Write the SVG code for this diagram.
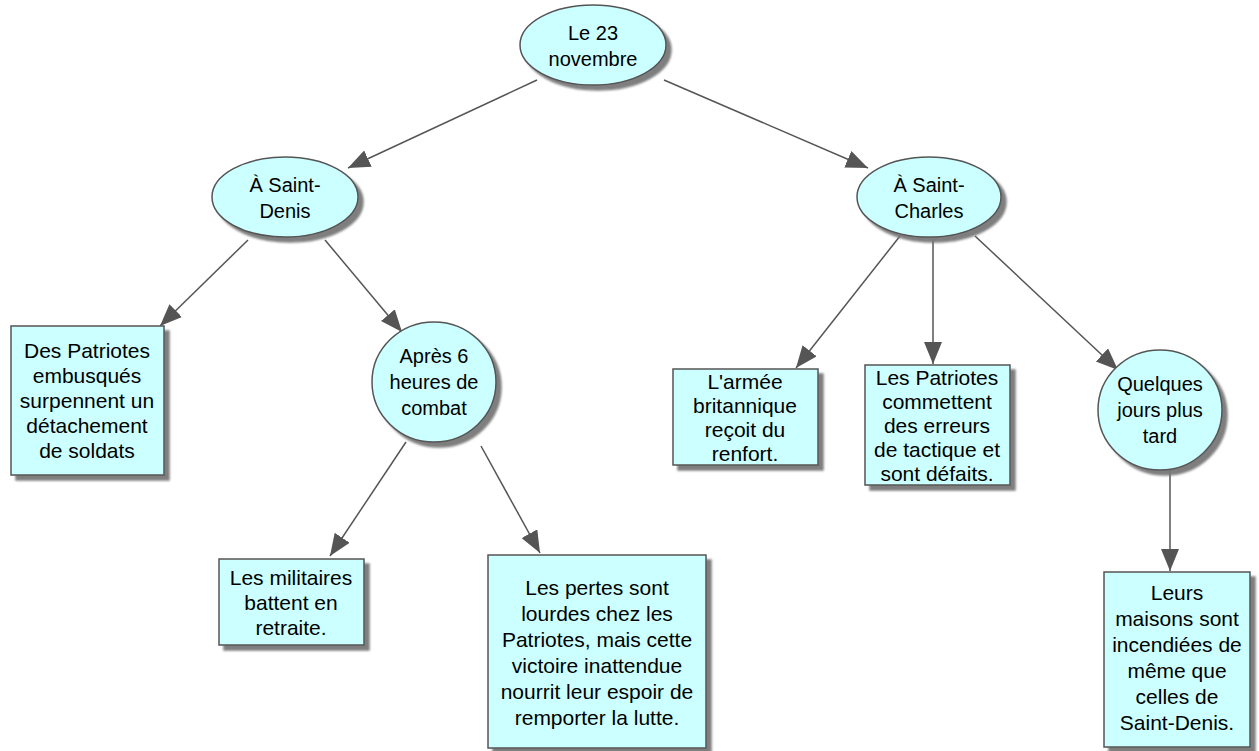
<svg xmlns="http://www.w3.org/2000/svg" width="1259" height="751" viewBox="0 0 1259 751">
<style>
.n{fill:#ccffff;stroke:#555;stroke-width:1.5;filter:url(#sh)}
.t{font-family:"Liberation Sans",Arial,sans-serif;font-size:21px;fill:#000;text-anchor:middle;dominant-baseline:central}
.e{font-size:20px}
.c{stroke:#555;stroke-width:1.5;fill:none;marker-end:url(#ah)}
</style>
<defs>
<filter id="sh" x="-20%" y="-20%" width="150%" height="150%">
<feDropShadow dx="5" dy="5" stdDeviation="1.2" flood-color="#777" flood-opacity="0.95"/>
</filter>
<marker id="ah" markerUnits="userSpaceOnUse" markerWidth="24" markerHeight="20" refX="22" refY="9" orient="auto">
<path d="M0,0 L22,9 L0,18 Z" fill="#555"/>
</marker>
</defs>
<g id="connectors">
<line class="c" x1="537" y1="80" x2="348" y2="168"/>
<line class="c" x1="664" y1="80" x2="868" y2="168"/>
<line class="c" x1="248" y1="240" x2="160" y2="326"/>
<line class="c" x1="325" y1="240" x2="402" y2="332"/>
<line class="c" x1="406" y1="442" x2="330" y2="556"/>
<line class="c" x1="481" y1="446" x2="540" y2="553"/>
<line class="c" x1="900" y1="236" x2="796" y2="368"/>
<line class="c" x1="933" y1="239" x2="933" y2="364"/>
<line class="c" x1="975" y1="236" x2="1118" y2="370"/>
<line class="c" x1="1170" y1="470" x2="1170" y2="571"/>
</g>
<g id="n1"><ellipse class="n" cx="593" cy="45" rx="73" ry="40"/>
<text class="t e" x="593" y="33">Le 23</text><text class="t e" x="593" y="59">novembre</text></g>
<g id="n2"><ellipse class="n" cx="285" cy="197" rx="73" ry="40"/>
<text class="t e" x="285" y="185">À Saint-</text><text class="t e" x="285" y="211">Denis</text></g>
<g id="n3"><ellipse class="n" cx="929" cy="197" rx="72" ry="40"/>
<text class="t e" x="929" y="185">À Saint-</text><text class="t e" x="929" y="211">Charles</text></g>
<g id="n4"><rect class="n" x="11" y="326" width="153" height="149"/>
<text class="t" x="87" y="350">Des Patriotes</text><text class="t" x="87" y="375">embusqués</text><text class="t" x="87" y="400">surpennent un</text><text class="t" x="87" y="425">détachement</text><text class="t" x="87" y="450">de soldats</text></g>
<g id="n5"><ellipse class="n" cx="434" cy="382" rx="62" ry="60"/>
<text class="t e" x="434" y="356">Après 6</text><text class="t e" x="434" y="382">heures de</text><text class="t e" x="434" y="408">combat</text></g>
<g id="n6"><rect class="n" x="219" y="559" width="145" height="86"/>
<text class="t" x="291" y="577">Les militaires</text><text class="t" x="291" y="602">battent en</text><text class="t" x="291" y="627">retraite.</text></g>
<g id="n7"><rect class="n" x="488" y="555" width="218" height="193"/>
<text class="t" x="597" y="587">Les pertes sont</text><text class="t" x="597" y="613">lourdes chez les</text><text class="t" x="597" y="639">Patriotes, mais cette</text><text class="t" x="597" y="665">victoire inattendue</text><text class="t" x="597" y="691">nourrit leur espoir de</text><text class="t" x="597" y="717">remporter la lutte.</text></g>
<g id="n8"><rect class="n" x="673" y="369" width="145" height="96"/>
<text class="t" x="745" y="381">L'armée</text><text class="t" x="745" y="405">britannique</text><text class="t" x="745" y="429">reçoit du</text><text class="t" x="745" y="453">renfort.</text></g>
<g id="n9"><rect class="n" x="865" y="365" width="145" height="120"/>
<text class="t" x="937" y="377">Les Patriotes</text><text class="t" x="937" y="401">commettent</text><text class="t" x="937" y="425">des erreurs</text><text class="t" x="937" y="449">de tactique et</text><text class="t" x="937" y="473">sont défaits.</text></g>
<g id="n10"><ellipse class="n" cx="1160" cy="410" rx="62" ry="60"/>
<text class="t e" x="1160" y="384">Quelques</text><text class="t e" x="1160" y="410">jours plus</text><text class="t e" x="1160" y="436">tard</text></g>
<g id="n11"><rect class="n" x="1104" y="572" width="146" height="175"/>
<text class="t" x="1177" y="592">Leurs</text><text class="t" x="1177" y="618">maisons sont</text><text class="t" x="1177" y="644">incendiées de</text><text class="t" x="1177" y="670">même que</text><text class="t" x="1177" y="696">celles de</text><text class="t" x="1177" y="722">Saint-Denis.</text></g>
</svg>
